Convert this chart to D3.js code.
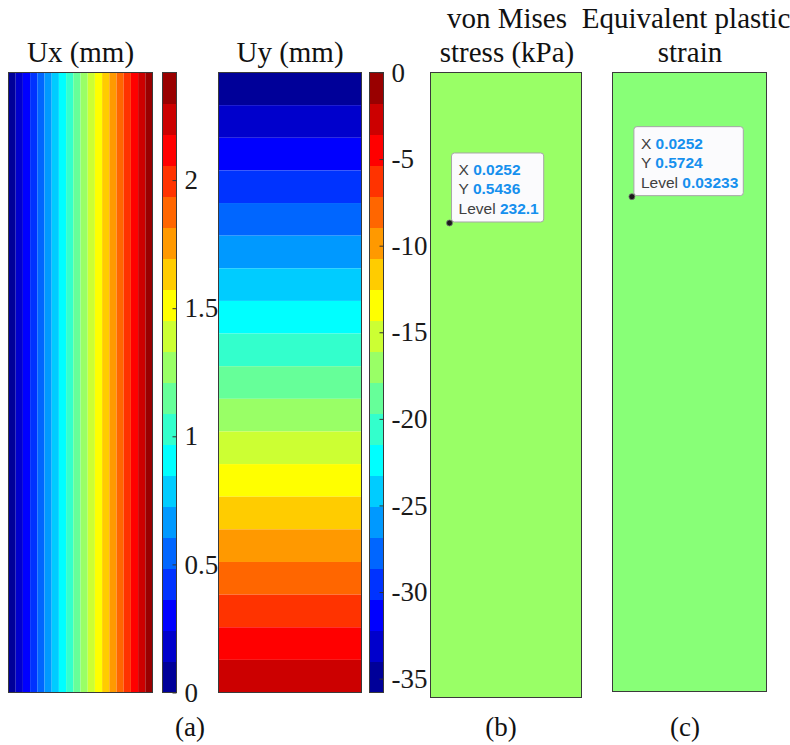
<!DOCTYPE html>
<html>
<head>
<meta charset="utf-8">
<script src="https://cdn.jsdelivr.net/npm/d3@7"></script>
<style>
  body { margin: 0; background: #fff; }
  svg { display: block; }
</style>
</head>
<body>
<script>
// MATLAB jet(20) colormap, low to high
const aJet20 = ['#000099', '#0000cc', '#0000ff', '#0033ff', '#0066ff', '#0099ff', '#00ccff', '#00ffff', '#33ffcc', '#66ff99',
  '#99ff66', '#ccff33', '#ffff00', '#ffcc00', '#ff9900', '#ff6600', '#ff3300', '#ff0000', '#cc0000', '#990000'];

// Ux contour levels (mm), field grows left to right
const aUxLevels = [0, 0.121, 0.242, 0.363, 0.484, 0.605, 0.726, 0.847, 0.968, 1.089, 1.21,
  1.331, 1.452, 1.573, 1.694, 1.815, 1.936, 2.057, 2.178, 2.299, 2.42];
const aUxField = [0, 2.42];
const aUxTicks = [0, 0.5, 1, 1.5, 2];

// Uy contour levels (mm), field grows top to bottom
const aUyLevels = [-35.8, -34.01, -32.22, -30.43, -28.64, -26.85, -25.06, -23.27, -21.48, -19.69, -17.9,
  -16.11, -14.32, -12.53, -10.74, -8.95, -7.16, -5.37, -3.58, -1.79, 0];
const aUyField = [-35.8, -1.79];
const aUyTicks = [-35, -30, -25, -20, -15, -10, -5, 0];

// Uniform fields and their data tips (specimen coordinates in m)
const aSpecimenX = [0, 0.2];
const aSpecimenY = [0, 0.716];
const aTips = [
  { sPanel: 'mises', nX: 0.0252, nY: 0.5436, sLevel: '232.1' },
  { sPanel: 'peeq', nX: 0.0252, nY: 0.5724, sLevel: '0.03233' }
];

const sSerif = '"Liberation Serif", "Times New Roman", serif';
const sSans = '"Liberation Sans", Arial, Helvetica, sans-serif';

const jBox = {
  ux: { l: 8.5, r: 152.5, t: 72.5, b: 692.5 },
  uxBar: { l: 162.5, r: 176.5, t: 72.5, b: 692.5 },
  uy: { l: 218.5, r: 361.5, t: 72.5, b: 692.5 },
  uyBar: { l: 369.5, r: 383.5, t: 72.5, b: 692.5 },
  mises: { l: 430.5, r: 581.5, t: 72.5, b: 697.5, sFill: '#99ff66' },
  peeq: { l: 612.5, r: 766.5, t: 72.5, b: 691.5, sFill: '#88ff77' }
};

const oSvg = d3.select('body').append('svg').attr('width', 790).attr('height', 745);

// Outline helper
const fnFrame = (oG, jB) => oG.append('rect')
  .attr('x', jB.l).attr('y', jB.t)
  .attr('width', jB.r - jB.l).attr('height', jB.b - jB.t)
  .attr('fill', 'none').attr('stroke', '#3a3a3a').attr('stroke-width', 1);

// Colorbar with ticks on the right
const fnColorbar = (jB, aLevels, aTicks) => {
  const oScale = d3.scaleLinear().domain([aLevels[0], aLevels[aLevels.length - 1]]).range([jB.b, jB.t]);
  const oG = oSvg.append('g');
  oG.selectAll('rect.band').data(d3.range(aLevels.length - 1)).enter().append('rect')
    .attr('class', 'band')
    .attr('x', jB.l).attr('width', jB.r - jB.l)
    .attr('y', i => oScale(aLevels[i + 1]))
    .attr('height', i => oScale(aLevels[i]) - oScale(aLevels[i + 1]))
    .attr('fill', i => aJet20[i]).attr('shape-rendering', 'crispEdges');
  fnFrame(oG, jB);
  const oAxis = oG.append('g').attr('transform', `translate(${jB.r},0)`)
    .call(d3.axisRight(oScale).tickValues(aTicks).tickSize(-4).tickPadding(8).tickFormat(d => String(d)));
  oAxis.select('.domain').remove();
  oAxis.selectAll('line').attr('stroke', '#333');
  oAxis.selectAll('text').attr('font-family', sSerif).attr('font-size', 27).attr('fill', '#1a1a1a');
};

// Ux: vertical stripes
const oScaleUx = d3.scaleLinear().domain(aUxField).range([jBox.ux.l, jBox.ux.r]);
const oUxG = oSvg.append('g');
oUxG.selectAll('rect').data(d3.range(aUxLevels.length - 1)).enter().append('rect')
  .attr('x', i => oScaleUx(aUxLevels[i]))
  .attr('width', i => oScaleUx(aUxLevels[i + 1]) - oScaleUx(aUxLevels[i]))
  .attr('y', jBox.ux.t).attr('height', jBox.ux.b - jBox.ux.t)
  .attr('fill', i => aJet20[i]);
fnFrame(oUxG, jBox.ux);
fnColorbar(jBox.uxBar, aUxLevels, aUxTicks);

// Uy: horizontal bands, most negative on top
const oScaleUy = d3.scaleLinear().domain(aUyField).range([jBox.uy.t, jBox.uy.b]);
const aUyBands = d3.range(aUyLevels.length - 1).filter(i => aUyLevels[i] < aUyField[1]);
const oUyG = oSvg.append('g');
oUyG.selectAll('rect').data(aUyBands).enter().append('rect')
  .attr('x', jBox.uy.l).attr('width', jBox.uy.r - jBox.uy.l)
  .attr('y', i => oScaleUy(Math.max(aUyLevels[i], aUyField[0])))
  .attr('height', i => oScaleUy(Math.min(aUyLevels[i + 1], aUyField[1])) - oScaleUy(Math.max(aUyLevels[i], aUyField[0])))
  .attr('fill', i => aJet20[i]);
fnFrame(oUyG, jBox.uy);
fnColorbar(jBox.uyBar, aUyLevels, aUyTicks);

// Uniform panels (drawn over the colorbar labels, as in the figure)
['mises', 'peeq'].forEach((sKey) => {
  const jB = jBox[sKey];
  oSvg.append('rect')
    .attr('x', jB.l).attr('y', jB.t).attr('width', jB.r - jB.l).attr('height', jB.b - jB.t)
    .attr('fill', jB.sFill).attr('stroke', '#3a3a3a').attr('stroke-width', 1);
});

// Data tips
aTips.forEach((jTip) => {
  const jB = jBox[jTip.sPanel];
  const oX = d3.scaleLinear().domain(aSpecimenX).range([jB.l, jB.r]);
  const oY = d3.scaleLinear().domain(aSpecimenY).range([jB.b, jB.t]);
  const iPx = oX(jTip.nX);
  const iPy = oY(jTip.nY);
  const oG = oSvg.append('g');
  const oRect = oG.append('rect');
  const aLines = [['X', String(jTip.nX)], ['Y', String(jTip.nY)], ['Level', jTip.sLevel]];
  const iLeft = iPx + 2;
  const iTop = iPy - 70;
  let iMaxW = 0;
  aLines.forEach(([sLabel, sValue], i) => {
    const oText = oG.append('text')
      .attr('x', iLeft + 7).attr('y', iTop + 22 + i * 19.5)
      .attr('font-family', sSans).attr('font-size', 15.5);
    oText.append('tspan').attr('fill', '#404040').text(sLabel + ' ');
    oText.append('tspan').attr('fill', '#1690ee').attr('font-weight', 'bold').text(sValue);
    iMaxW = Math.max(iMaxW, oText.node().getComputedTextLength());
  });
  oRect.attr('x', iLeft).attr('y', iTop).attr('width', iMaxW + 12).attr('height', 69)
    .attr('rx', 3).attr('fill', '#fbfbfd').attr('stroke', '#a6a6a6').attr('stroke-width', 1);
  oG.append('circle').attr('cx', iPx).attr('cy', iPy).attr('r', 3)
    .attr('fill', '#1a1a1a').attr('stroke', '#777').attr('stroke-width', 0.8);
});

// Titles and subfigure labels
const aTitles = [
  { x: 80.5, y: 62, s: 'Ux (mm)' },
  { x: 290, y: 62, s: 'Uy (mm)' },
  { x: 507, y: 28, s: 'von Mises' },
  { x: 507, y: 62, s: 'stress (kPa)' },
  { x: 686, y: 28, s: 'Equivalent plastic' },
  { x: 690, y: 62, s: 'strain' }
];
oSvg.selectAll('text.title').data(aTitles).enter().append('text')
  .attr('class', 'title')
  .attr('x', d => d.x).attr('y', d => d.y)
  .attr('text-anchor', 'middle')
  .attr('font-family', sSerif).attr('font-size', 29).attr('fill', '#111')
  .text(d => d.s);

const aPanelLabels = [{ x: 190, s: '(a)' }, { x: 501, s: '(b)' }, { x: 685, s: '(c)' }];
oSvg.selectAll('text.sub').data(aPanelLabels).enter().append('text')
  .attr('class', 'sub')
  .attr('x', d => d.x).attr('y', 736)
  .attr('text-anchor', 'middle')
  .attr('font-family', sSerif).attr('font-size', 27).attr('fill', '#111')
  .text(d => d.s);
</script>
</body>
</html>
